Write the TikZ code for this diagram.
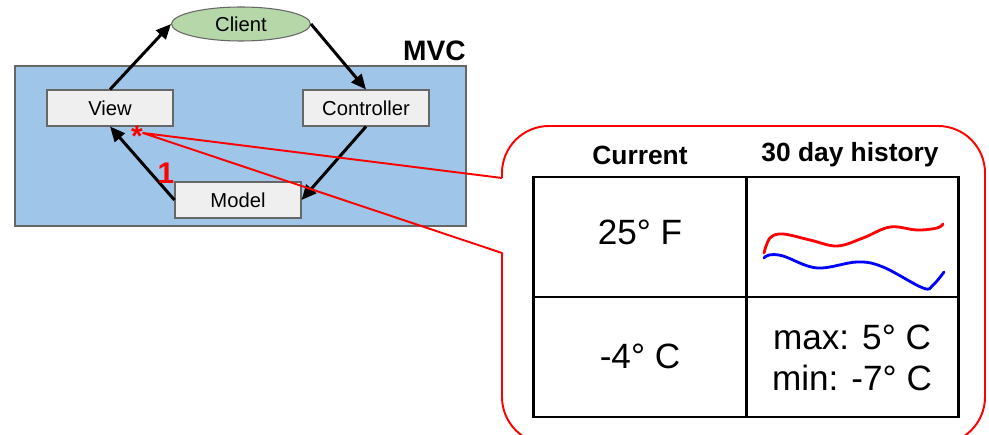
\documentclass[tikz,border=0pt]{standalone}
\usepackage{fontspec}
\setmainfont{Liberation Sans}
\usetikzlibrary{arrows.meta,shapes.geometric}
\definecolor{mvcblue}{HTML}{9FC5E8}
\definecolor{clientgreen}{HTML}{B6D7A8}
\definecolor{boxgray}{HTML}{EFEFEF}
\definecolor{edgegray}{HTML}{666666}
\tikzset{
  compbox/.style={draw=edgegray, fill=boxgray, line width=0.6pt, minimum width=2.52cm, minimum height=0.72cm, inner sep=0pt, font=\fontsize{11.5}{13}\selectfont},
  flow/.style={line width=1.7pt, -{Triangle[length=0.3cm,width=0.26cm]}},
  callout/.style={draw=red, line width=1.1pt, line join=round},
  grid/.style={line width=1.7pt},
  bigtext/.style={font=\fontsize{20}{23}\selectfont, align=center, inner sep=0pt},
  headtext/.style={font=\bfseries\fontsize{15}{18}\selectfont, inner sep=0pt},
  redmark/.style={text=red, font=\bfseries\fontsize{17}{19}\selectfont, inner sep=0pt}
}
\begin{document}
\begin{tikzpicture}[x=0.02cm,y=-0.02cm]
\useasboundingbox (0,0) rectangle (989,435);
\begin{scope}
\clip (0,0) rectangle (989,435);
% MVC container
\draw[draw=edgegray, fill=mvcblue, line width=0.6pt] (15,66) rectangle (466,226);
\node[font=\bfseries\fontsize{16}{19}\selectfont, anchor=south east, inner sep=0pt] (mvc) at (466,61) {MVC};
% components
\node[ellipse, draw=edgegray, fill=clientgreen, line width=0.6pt, minimum width=2.78cm, minimum height=0.68cm, inner sep=0pt, font=\fontsize{11.5}{13}\selectfont] (client) at (241,24) {Client};
\node[compbox] (view) at (110,108) {View};
\node[compbox] (controller) at (366,108) {Controller};
\node[compbox] (model) at (238,200) {Model};
% arrows
\draw[flow] (view.north) -- (client.west);
\draw[flow] (client.east) -- (controller.north);
\draw[flow] (controller.south) -- (model.east);
\draw[flow] (model.west) -- (view.south);
\node[redmark] (one) at (166,173) {1};
\node[redmark] (star) at (137,136) {*};
\coordinate (tip) at (143,133);
% callout
\draw[callout] (502,178) -- (tip) -- (502,253) -- (502,397)
  .. controls (502,423) and (523,444) .. (549,444) -- (938,444)
  .. controls (964,444) and (985,423) .. (985,397) -- (985,173)
  .. controls (985,147) and (964,126) .. (938,126) -- (549,126)
  .. controls (523,126) and (502,147) .. (502,173) -- (502,178);
% table
\draw[grid] (533,177) rectangle (958,417);
\draw[grid] (746,177) -- (746,417);
\draw[grid] (533,297) -- (958,297);
\node[headtext] (hcur) at (640,155) {Current};
\node[headtext] (hhist) at (850,155) {30 day history};
\node[bigtext] (t1) at (640,232) {25° F};
\node[bigtext] (t2) at (640,356) {-4° C};
\node[bigtext] (t3) at (852,358) {max: 5° C\\min: -7° C};
% history curves
\draw[red, line width=1.6pt, line cap=round] plot[smooth, tension=0.6] coordinates {(764,253) (770,238) (783,234) (810,240) (837,246) (863,238) (890,227) (917,230) (937,228) (943,224)};
\draw[blue, line width=1.6pt, line cap=round] plot[smooth, tension=0.6] coordinates {(764,258) (769,255) (783,256) (817,268) (857,262) (883,267) (923,288) (933,285) (944,272)};
\end{scope}
\end{tikzpicture}
\end{document}
